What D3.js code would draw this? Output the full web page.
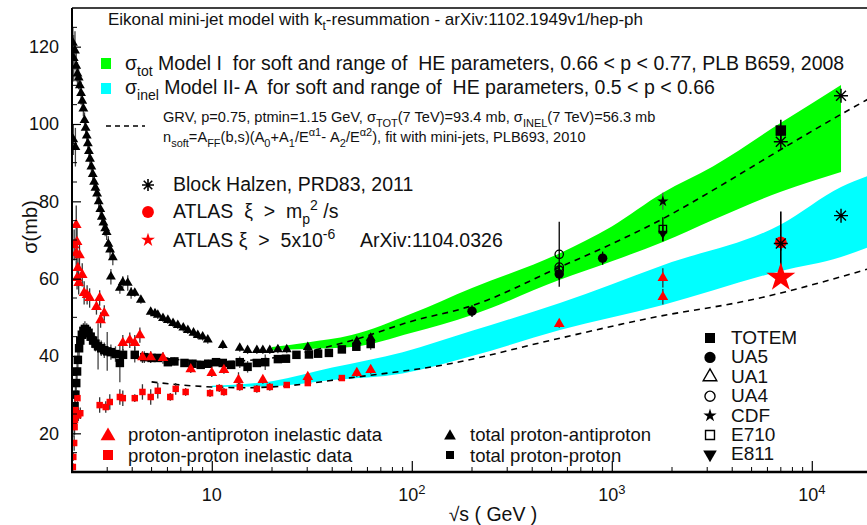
<!DOCTYPE html>
<html><head><meta charset="utf-8">
<script src="https://cdn.jsdelivr.net/npm/d3@7"></script>
<style>
body{margin:0;background:#fff}
svg{display:block}
text{font-family:"Liberation Sans",Arial,Helvetica,sans-serif;fill:#111;white-space:pre}
</style>
</head><body><svg id="c" width="867" height="525"></svg>
<script>
// ---------------- DATA ----------------
const yTicks = [20, 40, 60, 80, 100, 120];
const xTickVals = [10, 100, 1000, 10000];
const xTickExp = ["", "2", "3", "4"];

// bands: sqrt(s) GeV, low / high sigma (mb)
const greenS  = [20, 30, 50, 100, 200, 550, 1000, 1800, 3200, 7000, 14000];
const greenLo = [41.5, 41.8, 42.3, 46, 50.6, 59.7, 64.5, 69.5, 75.2, 82.5, 87.6];
const greenHi = [42.3, 43.5, 45.4, 51, 57.6, 66.6, 73.5, 82.2, 89, 100.3, 110.1];

const cyanS  = [10, 20, 40, 90, 200, 550, 1800, 7000, 14000, 20000];
const cyanLo = [32.0, 32.2, 33.8, 35.5, 40, 46.7, 53.2, 62, 65.6, 68.5];
const cyanHi = [32.3, 33.5, 37.0, 41, 46.5, 53.7, 63.5, 74, 83.7, 87];

// GRV dashed curves
const grvTotS = [5, 10, 20, 50, 100, 200, 550, 1000, 1800, 3000, 7000, 14000, 20000];
const grvTot  = [40, 38.5, 39.5, 44, 49, 53, 63, 69, 75.5, 82, 93.4, 102.5, 107];
const grvInelS = [5, 7, 10, 15, 20, 50, 155, 490, 1550, 5500, 7000, 20000];
const grvInel  = [33.3, 32.5, 32.0, 31.8, 32.0, 34.4, 38, 44, 49.8, 55, 56.3, 62.8];

// [sqrt(s), sigma, error]
const ppbarTot = [[2.02,121,4],[2.03,96,4],[2.04,117,6],[2.07,119,5],[2.08,94,5],[2.1,115,4],[2.13,113,3],[2.16,112,3],
 [2.19,110,2],[2.22,108,3],[2.25,106,2],[2.28,104,2],[2.31,101,2],[2.34,99,2],[2.37,97,2],[2.4,95,2],[2.43,93,2],
 [2.46,91,2],[2.5,89,2],[2.54,87,2],[2.58,85,2],[2.62,83.5,2],[2.67,82,2],[2.72,80,2],[2.77,78,2],[2.82,76,2],
 [2.87,74.5,2],[2.93,73,2],[2.98,72,2],[3.04,69,2],[3.1,67.5,2],[3.2,65.5,2],[3.13,60.5,2],[3.47,57.6,1.5],
 [3.59,59.1,1.5],[3.8,58.9,2],[3.95,56.3,1.5],[4.12,56.3,1],[4.42,54.5,1],[4.95,51.4,1],[5.2,51,1],[5.37,50.6,1],
 [5.7,49.8,1],[6.03,49.3,1],[6.4,48.5,1],[6.76,48,1],[7.2,47.3,1],[7.59,46.7,1],[8.1,46,1],[8.51,45.4,1],[9.0,45,1],
 [9.55,44.2,1],[11.35,42.8,1],[13.8,42.1,1],[15.1,41.5,1],[16.8,41.5,1],[18,41.5,1],[19.5,41.5,1],[21.4,41.7,1],
 [23.7,41.7,1],[30.2,42.3,1],[53.1,43.8,1],[62.3,44.7,1]];

const ppTot = [[2.02,22,3],[2.04,24,3],[2.06,27,4],[2.08,30,4],[2.1,33,4],[2.12,36,3],[2.14,39,3],[2.17,42,3],
 [2.2,44,2],[2.24,45.5,2],[2.28,46.5,2],[2.32,47,2],[2.37,46.5,2],[2.42,46,2],[2.48,45,2],[2.55,44,2],[2.62,43.2,2],
 [2.7,42.5,6],[2.8,42,2],[2.9,41.5,2],[3.0,41.2,5],[3.13,41,2],[3.3,40.5,2],[3.47,38.2,5],[3.6,40.3,1.5],[4.12,40.3,2],
 [4.6,39.7,1.5],[5.0,39.5,1],[5.37,39.5,1],[6.03,38.4,1],[6.5,38.6,1],[7.3,38.2,1],[8.0,38,1],[8.8,37.7,1],[9.6,38,1],
 [10.5,38.4,1],[11.35,38.2,1],[12.5,37.7,1],[13.8,38.4,1.5],[15.1,37.2,1.5],[16.8,38.2,1],[18.5,38.4,2],[21.4,39.2,1],
 [23.5,39.3,0.5],[26.5,40.3,0.5],[30.6,40.4,0.5],[34,40.6,0.5],[38.5,40.8,0.5],[44.7,41.7,0.5],[52.8,42.4,0.5],[62.3,43.1,1.5]];

const ppbarInel = [[2.05,68.7,4],[2.1,73.9,5],[2.12,69.5,4],[2.1,66.6,4],[2.18,66.1,3],[2.14,62.8,3],[2.12,60.2,3],
 [2.25,61,3],[2.16,58.9,3],[2.3,56.3,3],[2.38,55.8,2.5],[2.45,55,2.5],[2.75,55,2],[2.78,49.3,2],[2.65,52.7,2],
 [2.9,51.1,2],[3.59,43.4,2],[3.89,44.1,2],[4.12,43.4,2],[4.37,45.4,2],[4.5,39.7,1.5],[4.95,39.7,1.5],[5.7,39.5,1.5],
 [7.85,36.6,1],[10,35.6,1],[11.5,36.4,1],[13.6,33.8,2],[18,33.8,1],[30.2,34.6,1],[53.1,35.6,1],[62.3,36.4,1],
 [546,48.3,1],[1800,60.2,2.5],[1800,55.3,2]];

const ppInel = [[2.02,11.3,1],[2.03,13.9,1],[2.05,17.5,2],[2.06,21.6,2],[2.07,23.4,2],[2.08,26,2],[2.1,24.7,2],
 [2.13,29.1,2],[2.15,24.7,1.5],[2.2,25.2,1.5],[2.75,27.3,2],[2.95,26.8,1.5],[3.09,28.1,2],[3.47,29.4,2],[3.59,29.1,2],
 [4.12,29.1,1],[4.5,30.7,2],[4.95,29.4,2],[5.37,31,2],[6.2,29.4,1],[6.6,31.5,1.5],[7.4,30.7,1],[9.8,30.4,1],
 [10.9,31.7,1],[11.5,30.7,1],[13.8,32,1],[16.8,31.5,1],[19.5,32,1],[23.7,32.5,0.5],[30.2,33,0.5],[44.7,34.3,0.5]];

const ua5 = [[200,51.6,1.5],[546,61.2,1.5],[900,65.3,1.7]];
const ua1 = [];
const ua4 = [[546,66.3,8.4],[546,63.0,1.2],[546,62.2,1.5]];
const cdf = [[1800,80.0,2.2]];
const e710 = [[1800,72.8,3.1]];
const e811 = [[1800,71.7,2.0]];
const totem = [[7000,98.3,2.8]];
const blockHalzen = [[7000,95.4],[14000,107.3],[7000,69.1],[14000,76.3]];
const atlasCircle = [[7000,69.4,8.0]];
const atlasStar = [[7000,60.3]];

// ---------------- CHART ----------------
const svg = d3.select("#c");
const L = 72, R = 867, T = 8, B = 472;
const x = d3.scaleLog().domain([2, 20000]).range([72, 872]);
const y = d3.scaleLinear().domain([10, 130]).range([B, T]);

svg.append("defs").append("clipPath").attr("id","clip")
  .append("rect").attr("x",L).attr("y",T).attr("width",R-L).attr("height",B-T);
const plot = svg.append("g").attr("clip-path","url(#clip)");

function band(S, lo, hi, color){
  const d = S.map((s,i)=>({s, lo:lo[i], hi:hi[i]}));
  plot.append("path").datum(d)
    .attr("d", d3.area().x(p=>x(p.s)).y0(p=>y(p.lo)).y1(p=>y(p.hi)).curve(d3.curveMonotoneX))
    .attr("fill", color).attr("stroke","none");
}
band(greenS, greenLo, greenHi, "#00ff00");
band(cyanS, cyanLo, cyanHi, "#00ffff");

function dashed(S, V){
  const d = S.map((s,i)=>({s, v:V[i]}));
  plot.append("path").datum(d)
    .attr("d", d3.line().x(p=>x(p.s)).y(p=>y(p.v)).curve(d3.curveMonotoneX))
    .attr("fill","none").attr("stroke","#000").attr("stroke-width",1.6).attr("stroke-dasharray","6,5");
}
dashed(grvTotS, grvTot);
dashed(grvInelS, grvInel);

// marker helpers
function asteriskPath(r){
  const a = r*0.707;
  return `M0,${-r}L0,${r}M${-r},0L${r},0M${-a},${-a}L${a},${a}M${-a},${a}L${a},${-a}`;
}
function sym(type, size){ return d3.symbol().type(type).size(size)(); }

function errBars(data, color, w){
  plot.append("g").selectAll("line").data(data.filter(d=>d[2]!=null)).join("line")
    .attr("x1",d=>x(d[0])).attr("x2",d=>x(d[0]))
    .attr("y1",d=>y(d[1]-d[2])).attr("y2",d=>y(d[1]+d[2]))
    .attr("stroke",color).attr("stroke-width",w||1.3);
}
function markers(data, pathStr, fill, stroke, sw, rot){
  plot.append("g").selectAll("path").data(data).join("path")
    .attr("transform",d=>`translate(${x(d[0])},${y(d[1])})${rot?` rotate(${rot})`:""}`)
    .attr("d", pathStr).attr("fill", fill).attr("stroke", stroke||"none").attr("stroke-width", sw||1);
}

// low energy data
errBars(ppbarTot, "#444");
errBars(ppTot, "#444");
errBars(ppbarInel, "#333");
errBars(ppInel, "#333");
markers(ppbarTot, sym(d3.symbolTriangle, 42), "#000");
markers(ppTot, sym(d3.symbolSquare, 72), "#000");
markers(ppInel, sym(d3.symbolSquare, 42), "#ff0000");
markers(ppbarInel, sym(d3.symbolTriangle, 50), "#ff0000");

// high energy data
errBars(ua1, "#000"); errBars(ua4, "#000"); errBars(ua5, "#000");
errBars(cdf, "#555"); errBars(e710, "#000"); errBars(e811, "#000");
errBars(totem, "#000", 1.6); errBars(atlasCircle, "#000", 1.6);
markers(ua5, sym(d3.symbolCircle, 70), "#000");
markers(ua1, sym(d3.symbolTriangle, 60), "none", "#000", 1.3);
markers(ua4, sym(d3.symbolCircle, 55), "none", "#000", 1.3);
markers(cdf, sym(d3.symbolStar, 40), "#000");
markers(e710, sym(d3.symbolSquare, 55), "none", "#000", 1.3);
markers(e811, sym(d3.symbolTriangle, 40), "#000", null, 1, 180);
markers(totem, sym(d3.symbolSquare, 110), "#000");
markers(atlasCircle, sym(d3.symbolCircle, 110), "#ff0000");
markers(atlasStar, sym(d3.symbolStar, 260), "#ff0000");
markers(blockHalzen, asteriskPath(7), "none", "#000", 1.4);

// ---------------- AXES ----------------
const yAxis = d3.axisLeft(y).tickValues(yTicks).tickSize(-9).tickPadding(13).tickFormat(d3.format("d"));
const gy = svg.append("g").attr("transform",`translate(${L},0)`).call(yAxis);
gy.select(".domain").remove();
gy.selectAll("text").style("font-size","18px").attr("fill","#111");
gy.selectAll("line").attr("stroke","#000").attr("stroke-width",1.2);
// minor y ticks
const yMinor = d3.range(15, 130, 5).filter(v=>v%20!==0);
svg.append("g").selectAll("line").data(yMinor).join("line")
  .attr("x1",L).attr("x2",L+5).attr("y1",d=>y(d)).attr("y2",d=>y(d))
  .attr("stroke","#000").attr("stroke-width",1);

const xAxis = d3.axisBottom(x).tickValues(xTickVals).tickSize(-11).tickFormat("");
const gx = svg.append("g").attr("transform",`translate(0,${B})`).call(xAxis);
gx.select(".domain").remove();
gx.selectAll("line").attr("stroke","#000").attr("stroke-width",1.2);
const xMinor = [];
[1,10,100,1000,10000].forEach(dec=>{ for(let k=2;k<=9;k++){ const v=k*dec; if(v>=2 && v<=20000) xMinor.push(v);} });
svg.append("g").selectAll("line").data(xMinor).join("line")
  .attr("x1",d=>x(d)).attr("x2",d=>x(d)).attr("y1",B).attr("y2",B-5)
  .attr("stroke","#000").attr("stroke-width",1);

// x tick labels
xTickVals.forEach((v,i)=>{
  const t = svg.append("text").attr("x", x(v)).attr("y", 501).attr("text-anchor","middle").style("font-size","18px");
  t.append("tspan").text("10");
  if(xTickExp[i]) t.append("tspan").attr("dy",-7).style("font-size","13px").text(xTickExp[i]);
});

// frame
svg.append("line").attr("x1",L).attr("x2",L).attr("y1",T).attr("y2",B).attr("stroke","#000").attr("stroke-width",2);
svg.append("line").attr("x1",L-1).attr("x2",R).attr("y1",B).attr("y2",B).attr("stroke","#000").attr("stroke-width",2.5);
svg.append("line").attr("x1",L).attr("x2",R).attr("y1",T).attr("y2",T).attr("stroke","#000").attr("stroke-width",1.5);

// axis titles
svg.append("text").attr("transform","translate(37,227) rotate(-90)").attr("text-anchor","middle")
  .style("font-size","20px").text("σ(mb)");
svg.append("text").attr("x",493).attr("y",521).attr("text-anchor","middle").style("font-size","19.5px").text("√s ( GeV )");

// ---------------- TEXT / LEGENDS ----------------
function rich(xp, yp, size, parts, anchor){
  const t = svg.append("text").attr("x",xp).attr("y",yp).style("font-size",size+"px");
  if(anchor) t.attr("text-anchor",anchor);
  let cur = 0;
  parts.forEach(p=>{
    const s = typeof p === "string" ? p : p[0];
    const m = typeof p === "string" ? "n" : p[1];
    const off = m==="sub" ? size*0.32 : m==="sup" ? -size*0.42 : 0;
    const fs = m==="n" ? size : Math.round(size*0.72);
    t.append("tspan").attr("dy", off-cur).style("font-size", fs+"px").text(s);
    cur = off;
  });
  return t;
}

rich(108, 25, 17, ["Eikonal mini-jet model with k", ["t","sub"], "-resummation - arXiv:1102.1949v1/hep-ph"]);

svg.append("rect").attr("x",101).attr("y",58).attr("width",10).attr("height",11).attr("fill","#00ff00");
svg.append("rect").attr("x",101).attr("y",83).attr("width",10).attr("height",11).attr("fill","#00ffff");
rich(125, 70, 19.5, ["σ", ["tot","sub"], " Model I  for soft and range of  HE parameters, 0.66 < p < 0.77, PLB B659, 2008"]);
rich(125, 94, 19.5, ["σ", ["inel","sub"], " Model II- A  for soft and range of  HE parameters, 0.5 < p < 0.66"]);

svg.append("line").attr("x1",106).attr("x2",145).attr("y1",126).attr("y2",126)
  .attr("stroke","#000").attr("stroke-width",1.6).attr("stroke-dasharray","5,4");
rich(163, 122, 14.6, ["GRV, p=0.75, ptmin=1.15 GeV, σ", ["TOT","sub"], "(7 TeV)=93.4 mb, σ", ["INEL","sub"], "(7 TeV)=56.3 mb"]);
rich(163, 142, 14.6, ["n", ["soft","sub"], "=A", ["FF","sub"], "(b,s)(A", ["0","sub"], "+A", ["1","sub"], "/E", ["α1","sup"], "- A", ["2","sub"], "/E", ["α2","sup"], "), fit with mini-jets, PLB693, 2010"]);

// Block Halzen / ATLAS legend
svg.append("path").attr("transform","translate(148,185)").attr("d",asteriskPath(6)).attr("stroke","#000").attr("stroke-width",1.6).attr("fill","none");
rich(173, 191, 19.5, ["Block Halzen, PRD83, 2011"]);
svg.append("path").attr("transform","translate(148,212)").attr("d",sym(d3.symbolCircle,110)).attr("fill","#ff0000");
rich(173, 218, 19.5, ["ATLAS  ξ  >  m", ["p","sub"], ["2","sup"], " /s"]);
svg.append("path").attr("transform","translate(148,240)").attr("d",sym(d3.symbolStar,60)).attr("fill","#ff0000");
rich(173, 247, 19.5, ["ATLAS ξ  >  5x10", ["-6","sup"]]);
rich(360, 247, 19.5, ["ArXiv:1104.0326"]);

// bottom legend
svg.append("path").attr("transform","translate(108,436)").attr("d",sym(d3.symbolTriangle,95)).attr("fill","#ff0000");
rich(128, 441, 18.5, ["proton-antiproton inelastic data"]);
svg.append("path").attr("transform","translate(108,455)").attr("d",sym(d3.symbolSquare,100)).attr("fill","#ff0000");
rich(128, 462, 18.5, ["proton-proton inelastic data"]);
svg.append("path").attr("transform","translate(450,436)").attr("d",sym(d3.symbolTriangle,60)).attr("fill","#000");
rich(470, 441, 18.5, ["total proton-antiproton"]);
svg.append("path").attr("transform","translate(450,455)").attr("d",sym(d3.symbolSquare,64)).attr("fill","#000");
rich(470, 462, 18.5, ["total proton-proton"]);

// right legend
const rl = [["TOTEM", sym(d3.symbolSquare,100), "#000", "none", 0],
            ["UA5", sym(d3.symbolCircle,100), "#000", "none", 0],
            ["UA1", sym(d3.symbolTriangle,80), "none", "#000", 0],
            ["UA4", sym(d3.symbolCircle,80), "none", "#000", 0],
            ["CDF", sym(d3.symbolStar,55), "#000", "none", 0],
            ["E710", sym(d3.symbolSquare,80), "none", "#000", 0],
            ["E811", sym(d3.symbolTriangle,80), "#000", "none", 180]];
rl.forEach((r,i)=>{
  const yy = 338 + i*19.4;
  svg.append("path").attr("transform",`translate(710,${yy}) rotate(${r[4]})`).attr("d",r[1])
    .attr("fill",r[2]).attr("stroke",r[3]).attr("stroke-width",1.4);
  rich(731, yy+6, 19, [r[0]]);
});
</script>
</body></html>
